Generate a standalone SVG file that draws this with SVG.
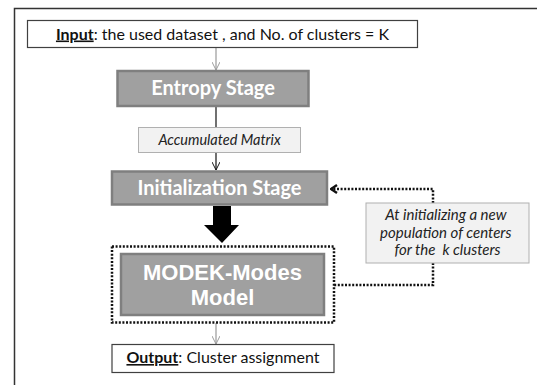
<svg xmlns="http://www.w3.org/2000/svg" width="537" height="385" viewBox="0 0 537 385">
<defs>
<style>
.cal{font-family:Lato,"Open Sans","Liberation Sans",sans-serif}
.stage{fill:#a0a0a0;stroke:#7f7f7f;stroke-width:2.5}
.stxt{fill:#ffffff;font-weight:bold;text-anchor:middle}
.lite{fill:#f2f2f2;stroke:#b0b0b0;stroke-width:1}
.io{fill:#ffffff;stroke:#404040;stroke-width:1.2}
.dot{fill:none;stroke:#111;stroke-width:2.5;stroke-dasharray:2 1.6}
</style>
<marker id="chevg" viewBox="0 0 10 10" refX="10" refY="5" markerWidth="8" markerHeight="8" orient="auto" markerUnits="userSpaceOnUse">
<path d="M0,0 L10,5 L0,10" fill="none" stroke="#999" stroke-width="1.2"/>
</marker>
<marker id="chevk" viewBox="0 0 10 10" refX="10" refY="5" markerWidth="8" markerHeight="8" orient="auto" markerUnits="userSpaceOnUse">
<path d="M0,0 L10,5 L0,10" fill="none" stroke="#111" stroke-width="1.2"/>
</marker>
<marker id="chevb" viewBox="0 0 10 10" refX="9" refY="5" markerWidth="10" markerHeight="10" orient="auto" markerUnits="userSpaceOnUse">
<path d="M3,1 L9,5 L3,9" fill="none" stroke="#111" stroke-width="2.4"/>
</marker>
</defs>
<rect width="537" height="385" fill="#ffffff"/>
<path d="M14.5,395 V8.5 H545" fill="none" stroke="#333" stroke-width="1.5"/>

<g id="connectors">
<line x1="216" y1="48" x2="216" y2="70" stroke="#999" stroke-width="1.2" marker-end="url(#chevg)"/>
<line x1="216" y1="106" x2="216" y2="127" stroke="#111" stroke-width="1.2"/>
<line x1="216" y1="153" x2="216" y2="170" stroke="#111" stroke-width="1.2" marker-end="url(#chevk)"/>
<polygon points="213,206 231,206 231,225 239,225 222,243 204,225 213,225" fill="#000"/>
<line x1="216" y1="323" x2="216" y2="344" stroke="#999" stroke-width="1.2" marker-end="url(#chevg)"/>
<path class="dot" d="M433,203 V189 H331" marker-end="url(#chevb)"/>
<path class="dot" d="M433,263 V285 H334"/>
</g>

<g id="input">
<rect class="io" x="27.5" y="20.5" width="390" height="27"/>
<text class="cal" x="222.5" y="39.5" font-size="16" text-anchor="middle" fill="#111"><tspan font-weight="bold" text-decoration="underline">Input</tspan>: the used dataset , and No. of clusters = K</text>
</g>

<g id="entropy">
<rect class="stage" x="117.5" y="71" width="191" height="35"/>
<text class="cal stxt" x="213" y="95" font-size="20">Entropy Stage</text>
</g>

<g id="accumulated">
<rect class="lite" x="138.5" y="127.5" width="162" height="25"/>
<text class="cal" x="219.5" y="144.5" font-size="14.5" font-style="italic" text-anchor="middle" fill="#222">Accumulated Matrix</text>
</g>

<g id="initialization">
<rect class="stage" x="112" y="171.5" width="215" height="33"/>
<text class="cal stxt" x="219.5" y="195" font-size="20">Initialization Stage</text>
</g>

<g id="modek">
<rect class="dot" x="112" y="246.5" width="222" height="76"/>
<rect class="stage" x="121" y="254" width="203" height="61"/>
<text font-family="'Liberation Sans',Arial,sans-serif" class="stxt" font-size="22" x="222.5" y="280">MODEK-Modes</text>
<text font-family="'Liberation Sans',Arial,sans-serif" class="stxt" font-size="22" x="222.5" y="305">Model</text>
</g>

<g id="note">
<rect class="lite" x="366" y="203" width="163" height="60" stroke="#a0a0a0"/>
<text class="cal" font-size="15" font-style="italic" text-anchor="middle" fill="#222">
<tspan x="447.5" y="220">At initializing a new</tspan>
<tspan x="447.5" y="237.5">population of centers</tspan>
<tspan x="447.5" y="255" xml:space="preserve">for the  k clusters</tspan>
</text>
</g>

<g id="output">
<rect class="io" x="112" y="344.5" width="222" height="28"/>
<text class="cal" x="223" y="363" font-size="16" text-anchor="middle" fill="#111"><tspan font-weight="bold" text-decoration="underline">Output</tspan>: Cluster assignment</text>
</g>
</svg>
